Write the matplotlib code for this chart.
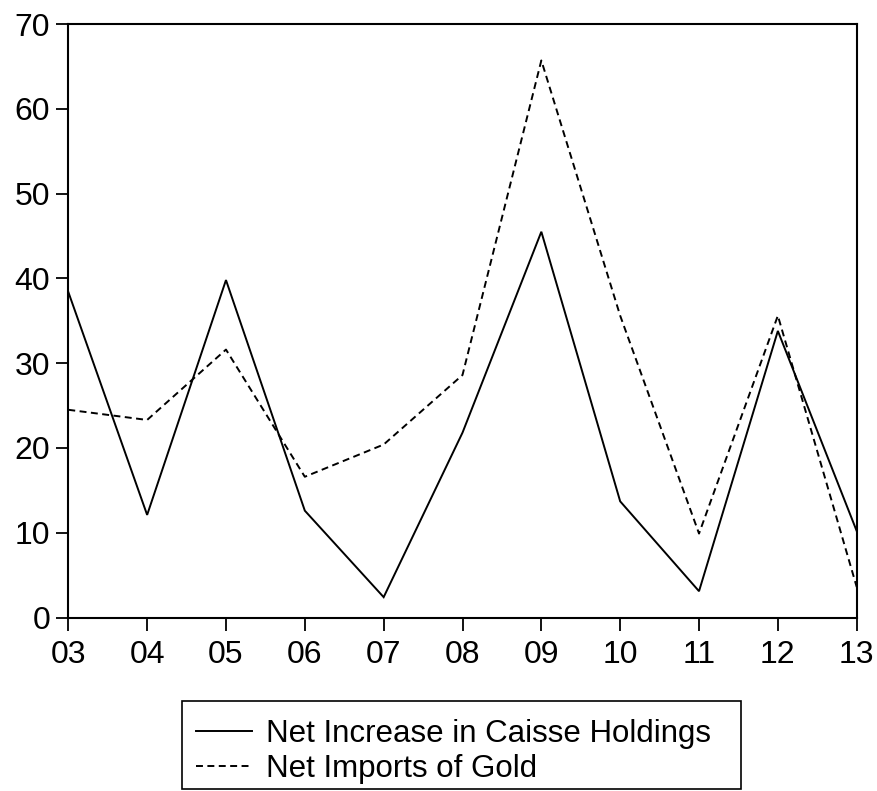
import matplotlib
matplotlib.use("Agg")
import matplotlib.pyplot as plt
from matplotlib.patches import Rectangle

years = ["03", "04", "05", "06", "07", "08", "09", "10", "11", "12", "13"]
caisse = [38.4, 12.1, 39.8, 12.6, 2.4, 21.8, 45.5, 13.7, 3.1, 33.8, 10.2]
gold = [24.5, 23.3, 31.6, 16.6, 20.4, 28.6, 65.7, 35.6, 9.9, 35.6, 3.6]
yticks = [0, 10, 20, 30, 40, 50, 60, 70]
labels = ["Net Increase in Caisse Holdings", "Net Imports of Gold"]

plt.rcParams["font.family"] = ["Liberation Sans", "DejaVu Sans"]
plt.rcParams["lines.scale_dashes"] = False

W, H = 878, 791
fig = plt.figure(figsize=(W / 100, H / 100), dpi=100)
ax = fig.add_axes([68.3 / W, 1 - 617.5 / H, (856.7 - 68.3) / W, (617.5 - 24) / H])

x = list(range(len(years)))
l1, = ax.plot(x, caisse, color="black", lw=1.4, solid_joinstyle="miter")
l2, = ax.plot(x, gold, color="black", lw=1.4, linestyle=(0, (5.0, 3.2)))

ax.set_xlim(0, len(years) - 1)
ax.set_ylim(0, 70)
ax.set_xticks(x)
ax.set_xticklabels(years)
ax.set_yticks(yticks)
ax.tick_params(axis="both", direction="out", length=9, width=1.3, labelsize=23,
               colors="black")
ax.tick_params(axis="x", pad=7)
ax.tick_params(axis="y", pad=4)
for s in ax.spines.values():
    s.set_linewidth(1.5)
    s.set_color("black")

# legend box
box = Rectangle((182 / W, 1 - 789 / H), (741 - 182) / W, (789 - 701) / H,
                transform=fig.transFigure, facecolor="white", edgecolor="black",
                linewidth=1.2, zorder=1)
fig.patches.append(box)

leg = fig.legend([l1, l2], labels, loc="upper left",
                 bbox_to_anchor=(196 / W, 1 - 719 / H),
                 fontsize=22.5, frameon=False, handlelength=1.8,
                 handletextpad=0.45, labelspacing=0.17, borderpad=0,
                 borderaxespad=0)
leg.set_zorder(2)

fig.savefig("out.png", dpi=100)
